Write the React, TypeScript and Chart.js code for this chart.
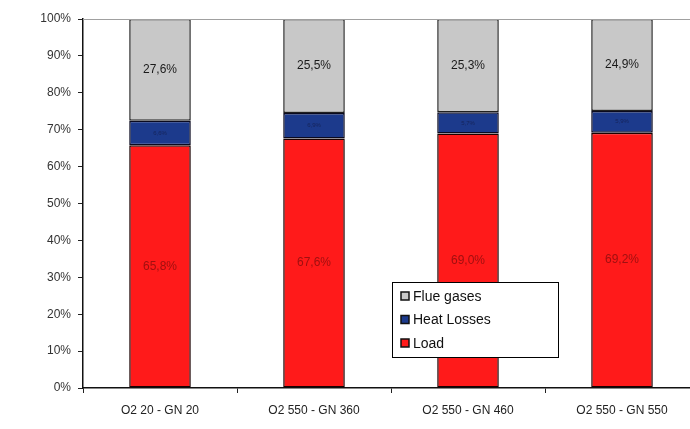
import React, { useEffect, useRef } from "react";
import { Chart, registerables } from "chart.js";

Chart.register(...registerables);

const categories = ["O2 20 - GN 20", "O2 550 - GN 360", "O2 550 - GN 460", "O2 550 - GN 550"];
const loadValues = [65.8, 67.6, 69.0, 69.2];
const heatLossValues = [6.6, 6.9, 5.7, 5.9];
const flueGasValues = [27.6, 25.5, 25.3, 24.9];
const loadLabels = ["65,8%", "67,6%", "69,0%", "69,2%"];
const heatLabels = ["6,6%", "6,9%", "5,7%", "5,9%"];
const flueLabels = ["27,6%", "25,5%", "25,3%", "24,9%"];
const yTicks = [0, 10, 20, 30, 40, 50, 60, 70, 80, 90, 100];

const FONT = "'Liberation Sans', Arial, sans-serif";

const labelPlugin = {
  id: "segLabels",
  afterDatasetsDraw(chart: any) {
    const ctx = chart.ctx;
    const labelSets = [loadLabels, heatLabels, flueLabels];
    const colors = ["#a01010", "#16245a", "#1a1a1a"];
    const sizes = [12, 6, 12];
    ctx.save();
    ctx.textAlign = "center";
    ctx.textBaseline = "middle";
    chart.data.datasets.forEach((ds: any, di: number) => {
      const meta = chart.getDatasetMeta(di);
      meta.data.forEach((bar: any, i: number) => {
        const yc = (bar.y + bar.base) / 2;
        ctx.fillStyle = colors[di];
        ctx.font = `${sizes[di]}px ${FONT}`;
        ctx.fillText(labelSets[di][i], bar.x, yc);
      });
    });
    // top border line
    const a = chart.chartArea;
    ctx.strokeStyle = "#a0a0a0";
    ctx.lineWidth = 1;
    ctx.beginPath();
    ctx.moveTo(a.left, a.top + 0.5);
    ctx.lineTo(a.right, a.top + 0.5);
    ctx.stroke();

    // legend box
    const lx = 392, ly = 282, lw = 166, lh = 75;
    ctx.fillStyle = "#ffffff";
    ctx.fillRect(lx, ly, lw, lh);
    ctx.strokeStyle = "#000000";
    ctx.lineWidth = 1;
    ctx.strokeRect(lx + 0.5, ly + 0.5, lw, lh);
    const entries = [
      { text: "Flue gases", color: "#c8c8c8" },
      { text: "Heat Losses", color: "#1c3a8c" },
      { text: "Load", color: "#ff1a1a" },
    ];
    ctx.textAlign = "left";
    ctx.font = `14px ${FONT}`;
    entries.forEach((e, k) => {
      const y = ly + 14 + k * 23.5;
      ctx.fillStyle = e.color;
      ctx.fillRect(lx + 9, y - 4, 8, 8);
      ctx.strokeStyle = "#111";
      ctx.lineWidth = 1.5;
      ctx.strokeRect(lx + 9, y - 4, 8, 8);
      ctx.fillStyle = "#111";
      ctx.fillText(e.text, lx + 21, y + 1);
    });
    ctx.restore();
  },
};

export default function App() {
  const ref = useRef<HTMLCanvasElement>(null);
  useEffect(() => {
    document.body.style.margin = "0";
    const chart = new Chart(ref.current!, {
      type: "bar",
      data: {
        labels: categories,
        datasets: [
          { label: "Load", data: loadValues, backgroundColor: "#ff1a1a", borderColor: "#1a0000", borderWidth: 1.5, borderSkipped: false },
          { label: "Heat Losses", data: heatLossValues, backgroundColor: "#1c3a8c", borderColor: "#0a0a20", borderWidth: 1.5, borderSkipped: false },
          { label: "Flue gases", data: flueGasValues, backgroundColor: "#c8c8c8", borderColor: "#202020", borderWidth: 1.5, borderSkipped: false },
        ],
      },
      options: {
        responsive: false,
        animation: false,
        layout: { padding: { top: 19, right: 0, left: 0, bottom: 0 } },
        plugins: { legend: { display: false }, tooltip: { enabled: false } },
        datasets: { bar: { categoryPercentage: 1, barPercentage: 0.4 } },
        scales: {
          x: {
            stacked: true,
            grid: { drawOnChartArea: false, tickLength: 5, color: "#222", offset: true },
            border: { color: "#111", width: 1.5 },
            ticks: { color: "#222", font: { family: FONT, size: 12 }, padding: 10, maxRotation: 0 },
            afterFit: (s: any) => { s.height = 41; },
          },
          y: {
            stacked: true,
            min: 0,
            max: 100,
            afterBuildTicks: (s: any) => { s.ticks = yTicks.map((v) => ({ value: v })); },
            grid: { drawOnChartArea: false, tickLength: 5, color: "#222" },
            border: { color: "#111", width: 1.5 },
            ticks: {
              color: "#333",
              font: { family: FONT, size: 12 },
              padding: 7,
              callback: (v: any) => v + "%",
            },
            afterFit: (s: any) => { s.width = 83; },
          },
        },
      },
      plugins: [labelPlugin],
    });
    return () => chart.destroy();
  }, []);
  return (
    <div style={{ width: 690, height: 429, overflow: "hidden", position: "relative", background: "#fff" }}>
      <canvas ref={ref} width={699} height={429} style={{ display: "block" }} />
    </div>
  );
}
